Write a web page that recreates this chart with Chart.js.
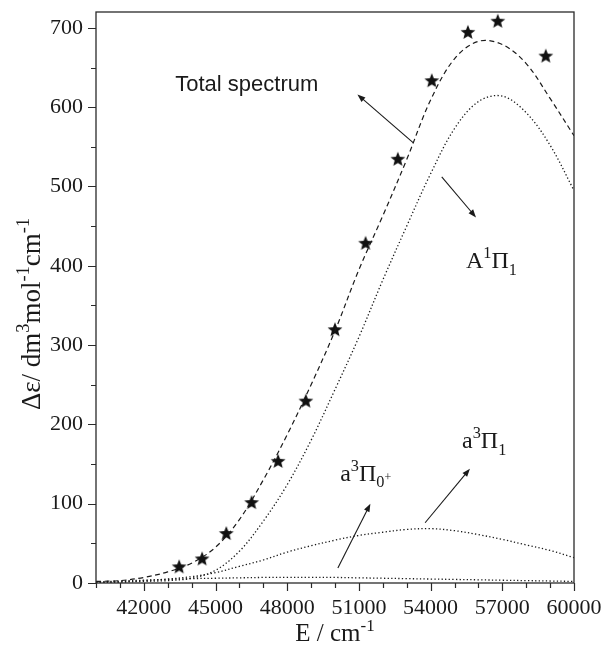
<!DOCTYPE html>
<html>
<head>
<meta charset="utf-8">
<script src="https://cdn.jsdelivr.net/npm/chart.js@4.4.0/dist/chart.umd.min.js"></script>
<style>
  html, body { margin: 0; padding: 0; background: #fff; }
  #chart { display: block; }
</style>
</head>
<body>
<canvas id="chart" width="604" height="652"></canvas>
<script>
// calculated curves, sampled every 1000 cm-1
const energies = [40000, 41000, 42000, 43000, 44000, 45000, 46000, 47000, 48000, 49000, 50000,
                  51000, 52000, 53000, 54000, 55000, 56000, 57000, 58000, 59000, 60000];
const totalSpectrum = [2, 3, 7, 14, 25, 45, 80, 130, 187, 250, 318, 395, 463, 534, 609, 661, 683, 679, 655, 611, 564];
const bandA1Pi1 = [0.5, 1, 2, 3, 6, 16, 40, 78, 124, 180, 244, 310, 382, 450, 516, 573, 607, 614, 593, 552, 495];
const banda3Pi1 = [0.5, 1.5, 3, 5, 8, 13, 21, 29, 39, 47, 54, 60, 64, 67.5, 68.5, 66, 61, 55, 48, 41, 32];
const banda3Pi0 = [1.5, 2.5, 3.5, 4.5, 5.5, 6, 6.5, 7, 7, 7, 7, 6.5, 6, 5.5, 5, 4.5, 4, 3.5, 3, 2.5, 2];

// experimental points (stars)
const expEnergies = [43480, 44440, 45450, 46510, 47620, 48780, 50000, 51280, 52630, 54050, 55560, 56810, 58820];
const expValues = [21, 31, 63, 102, 154, 230, 320, 429, 535, 634, 695, 709, 665];

// axis ticks
const xTicks = energies;
const xTickLabels = [42000, 45000, 48000, 51000, 54000, 57000, 60000];
const yTicks = [0, 50, 100, 150, 200, 250, 300, 350, 400, 450, 500, 550, 600, 650, 700];
const yTickLabels = [0, 100, 200, 300, 400, 500, 600, 700];

const SERIF = '"Liberation Serif", "Times New Roman", serif';
const SANS = '"Liberation Sans", Arial, sans-serif';
const INK = '#1a1a1a';

function pts(xs, ys) {
    return xs.map((x, i) => ({ x: x, y: ys[i] }));
}

// filled five pointed star used as point style
function makeStar(r) {
    const c = document.createElement('canvas');
    const size = Math.ceil(r * 2) + 2;
    c.width = size;
    c.height = size;
    const g = c.getContext('2d');
    g.fillStyle = '#111';
    g.beginPath();
    for (let i = 0; i < 10; i++) {
        const rad = i % 2 === 0 ? r : r * 0.43;
        const a = -Math.PI / 2 + i * Math.PI / 5;
        const px = size / 2 + rad * Math.cos(a);
        const py = size / 2 + 0.8 + rad * Math.sin(a);
        if (i === 0) g.moveTo(px, py); else g.lineTo(px, py);
    }
    g.closePath();
    g.fill();
    return c;
}

// rich text: parts are [text, kind], kind = n | sup | sub | subsup
function richSize(kind, size) {
    return kind === 'n' ? size : kind === 'subsup' ? size * 0.5 : size * 0.68;
}
function richShift(kind, size) {
    if (kind === 'sup') return -size * 0.42;
    if (kind === 'sub') return size * 0.27;
    if (kind === 'subsup') return size * 0.02;
    return 0;
}
function measureRich(ctx, parts, size, family) {
    let w = 0;
    parts.forEach(([t, kind]) => {
        ctx.font = richSize(kind, size) + 'px ' + family;
        w += ctx.measureText(t).width;
    });
    return w;
}
function drawRich(ctx, parts, x, y, size, family) {
    let cx = x;
    ctx.textAlign = 'left';
    ctx.textBaseline = 'alphabetic';
    parts.forEach(([t, kind]) => {
        ctx.font = richSize(kind, size) + 'px ' + family;
        ctx.fillText(t, cx, y + richShift(kind, size));
        cx += ctx.measureText(t).width;
    });
}

// annotations (data coordinates)
const arrows = [
    [53279, 555, 50938, 616],
    [54466, 512, 55900, 461],
    [50120, 19, 51480, 100],
    [53770, 76, 55646, 144]
];
const labels = [
    { x: 43316, y: 621, size: 22, family: SANS, parts: [['Total spectrum', 'n']] },
    { x: 55481, y: 397, size: 24, family: SERIF, parts: [['A', 'n'], ['1', 'sup'], ['\u03A0', 'n'], ['1', 'sub']] },
    { x: 55315, y: 170, size: 24, family: SERIF, parts: [['a', 'n'], ['3', 'sup'], ['\u03A0', 'n'], ['1', 'sub']] },
    { x: 50216, y: 129, size: 24, family: SERIF, parts: [['a', 'n'], ['3', 'sup'], ['\u03A0', 'n'], ['0', 'sub'], ['+', 'subsup']] }
];

const decorPlugin = {
    id: 'decor',
    afterDraw(chart) {
        const ctx = chart.ctx;
        const a = chart.chartArea;
        const xs = chart.scales.x, ys = chart.scales.y;
        ctx.save();

        // frame
        ctx.strokeStyle = '#2a2a2a';
        ctx.lineWidth = 1.3;
        ctx.strokeRect(a.left, a.top, a.right - a.left, a.bottom - a.top);

        // outward ticks
        ctx.lineWidth = 1.2;
        ctx.beginPath();
        xTicks.forEach(v => {
            const px = Math.round(xs.getPixelForValue(v)) + 0.5;
            const len = xTickLabels.includes(v) ? 8 : 5;
            ctx.moveTo(px, a.bottom);
            ctx.lineTo(px, a.bottom + len);
        });
        yTicks.forEach(v => {
            const py = Math.round(ys.getPixelForValue(v)) + 0.5;
            const len = yTickLabels.includes(v) ? 8 : 5;
            ctx.moveTo(a.left, py);
            ctx.lineTo(a.left - len, py);
        });
        ctx.stroke();

        // arrows
        ctx.strokeStyle = INK;
        ctx.fillStyle = INK;
        ctx.lineWidth = 1.1;
        arrows.forEach(([x1, y1, x2, y2]) => {
            const p1x = xs.getPixelForValue(x1), p1y = ys.getPixelForValue(y1);
            const p2x = xs.getPixelForValue(x2), p2y = ys.getPixelForValue(y2);
            const ang = Math.atan2(p2y - p1y, p2x - p1x);
            const hl = 8, hw = 3;
            ctx.beginPath();
            ctx.moveTo(p1x, p1y);
            ctx.lineTo(p2x - Math.cos(ang) * hl * 0.8, p2y - Math.sin(ang) * hl * 0.8);
            ctx.stroke();
            ctx.beginPath();
            ctx.moveTo(p2x, p2y);
            ctx.lineTo(p2x - Math.cos(ang) * hl - Math.sin(ang) * hw, p2y - Math.sin(ang) * hl + Math.cos(ang) * hw);
            ctx.lineTo(p2x - Math.cos(ang) * hl + Math.sin(ang) * hw, p2y - Math.sin(ang) * hl - Math.cos(ang) * hw);
            ctx.closePath();
            ctx.fill();
        });

        // curve labels
        labels.forEach(l => {
            drawRich(ctx, l.parts, xs.getPixelForValue(l.x), ys.getPixelForValue(l.y), l.size, l.family);
        });

        // axis titles
        const xt = [['E / cm', 'n'], ['-1', 'sup']];
        const xw = measureRich(ctx, xt, 25, SERIF);
        drawRich(ctx, xt, (a.left + a.right) / 2 - xw / 2, 641, 25, SERIF);

        const yt = [['\u0394\u03B5/ dm', 'n'], ['3', 'sup'], ['mol', 'n'], ['-1', 'sup'], ['cm', 'n'], ['-1', 'sup']];
        const yw = measureRich(ctx, yt, 27, SERIF);
        ctx.translate(40, 314);
        ctx.rotate(-Math.PI / 2);
        drawRich(ctx, yt, -yw / 2, 0, 27, SERIF);

        ctx.restore();
    }
};

const curveStyle = { showLine: true, pointRadius: 0, borderColor: INK, tension: 0.35, fill: false };

const chart = new Chart(document.getElementById('chart').getContext('2d'), {
    type: 'scatter',
    data: {
        datasets: [
            Object.assign({ label: 'Total spectrum', data: pts(energies, totalSpectrum), borderWidth: 1.2, borderDash: [5, 3.5] }, curveStyle),
            Object.assign({ label: 'A1Pi1', data: pts(energies, bandA1Pi1), borderWidth: 1.3, borderDash: [1.3, 2.3] }, curveStyle),
            Object.assign({ label: 'a3Pi1', data: pts(energies, banda3Pi1), borderWidth: 1.3, borderDash: [1.3, 2.3] }, curveStyle),
            Object.assign({ label: 'a3Pi0+', data: pts(energies, banda3Pi0), borderWidth: 1.3, borderDash: [1.3, 2.3] }, curveStyle),
            {
                label: 'Experiment',
                data: pts(expEnergies, expValues),
                showLine: false,
                pointStyle: makeStar(7.8),
                pointRadius: 8,
                pointHoverRadius: 8
            }
        ]
    },
    options: {
        responsive: false,
        devicePixelRatio: 1,
        animation: false,
        layout: { padding: { left: 0, right: 30, top: 12, bottom: 0 } },
        plugins: { legend: { display: false }, tooltip: { enabled: false } },
        scales: {
            x: {
                type: 'linear',
                min: 40000,
                max: 60000,
                afterBuildTicks: (s) => { s.ticks = xTicks.map(v => ({ value: v })); },
                afterFit: (s) => { s.height = 69; s.paddingLeft = 0; s.paddingRight = 0; },
                grid: { display: false, drawTicks: false },
                border: { display: false },
                ticks: {
                    autoSkip: false,
                    maxRotation: 0,
                    padding: 12,
                    color: INK,
                    font: { family: SERIF, size: 22 },
                    callback: (v) => xTickLabels.includes(v) ? String(v) : ''
                }
            },
            y: {
                type: 'linear',
                min: 0,
                max: 720,
                afterBuildTicks: (s) => { s.ticks = yTicks.map(v => ({ value: v })); },
                afterFit: (s) => { s.width = 96; s.paddingTop = 0; s.paddingBottom = 0; },
                grid: { display: false, drawTicks: false },
                border: { display: false },
                ticks: {
                    autoSkip: false,
                    padding: 13,
                    color: INK,
                    font: { family: SERIF, size: 22 },
                    callback: (v) => yTickLabels.includes(v) ? String(v) : ''
                }
            }
        }
    },
    plugins: [decorPlugin]
});
</script>
</body>
</html>
